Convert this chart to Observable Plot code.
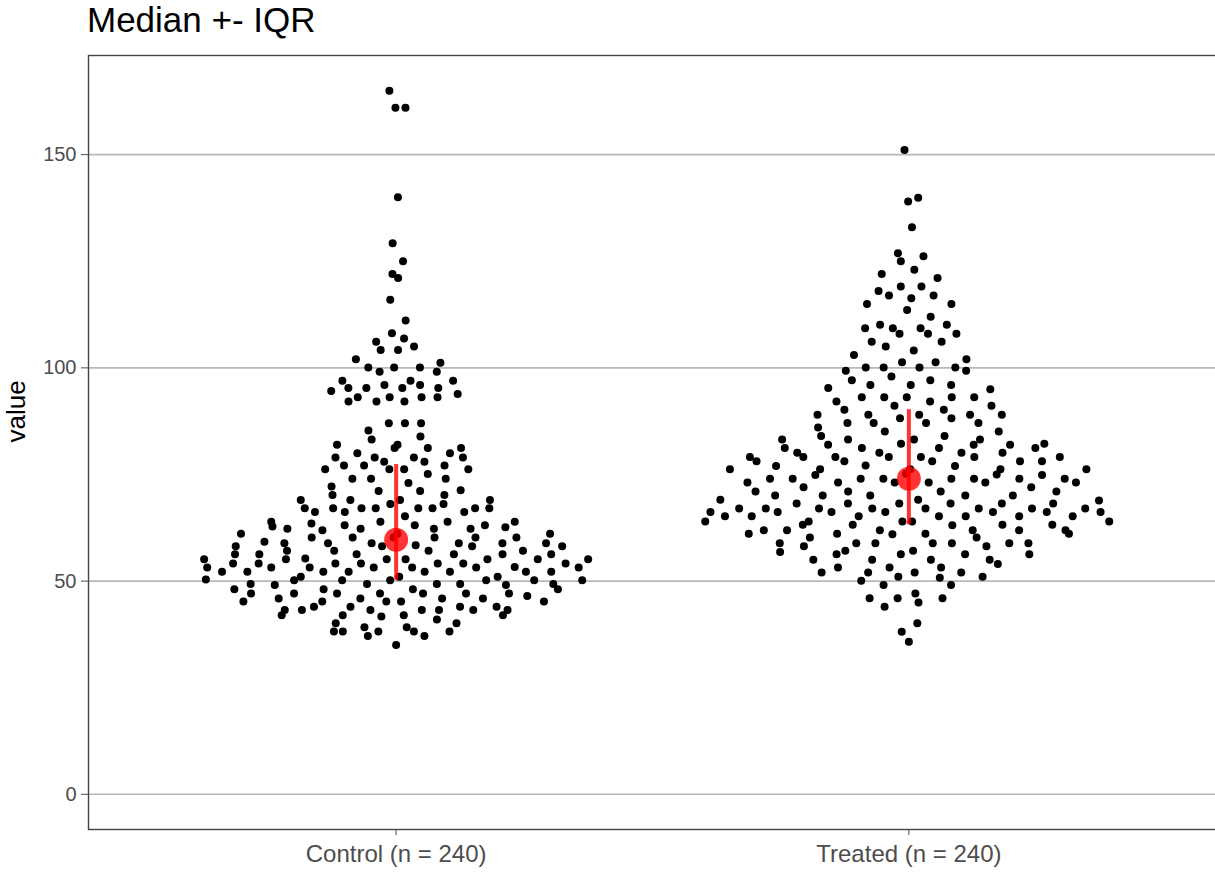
<!DOCTYPE html>
<html>
<head>
<meta charset="utf-8">
<script src="https://cdn.jsdelivr.net/npm/d3@7"></script>
<script src="https://cdn.jsdelivr.net/npm/@observablehq/plot@0.6"></script>
<style>
  html, body { margin: 0; padding: 0; background: #ffffff; }
  body { width: 1215px; height: 876px; position: relative; overflow: hidden;
         font-family: "Liberation Sans", Arial, sans-serif; }
  #title { position: absolute; left: 87px; top: 2px; font-size: 35px; line-height: 35px; color: #000; white-space: nowrap; }
  #chart { position: absolute; left: 0; top: 45px; width: 1218px; }
</style>
</head>
<body>
<div id="title">Median +- IQR</div>
<div id="chart"></div>
<script>
// Group names shown on the x axis (sample size is appended from the data)
const groupNames = ["Control", "Treated"];

// Control observations
const controlValues = [
  165.0, 161.0, 161.0, 140.0, 129.2, 125.0, 122.0, 121.1, 116.0, 111.1, 108.1, 106.9, 106.1,
  105.0, 104.2, 104.2, 102.0, 101.2, 100.1, 100.1, 100.1, 99.1, 99.1, 97.0, 97.0, 97.0,
  96.0, 96.0, 95.3, 95.3, 95.3, 95.3, 94.6, 93.9,
  93.1, 93.1, 93.1, 93.1, 92.1, 92.1, 92.1,
  87.0, 87.0, 87.0, 85.3, 83.9, 83.2, 82.0, 82.0, 81.2, 81.2, 81.2,
  80.0, 80.0, 79.0, 79.0, 79.0, 79.0, 78.0, 78.0,
  77.1, 77.1, 77.1, 76.2, 76.2, 76.2, 76.2,
  75.1, 74.0, 74.0, 74.0, 73.0,
  72.2, 71.3, 71.1, 71.1, 70.2, 70.2,
  69.0, 69.0, 69.0, 69.0, 68.1, 68.1,
  67.1, 67.1, 67.1, 67.1, 67.1, 67.1, 67.1, 67.1, 66.2, 66.2, 66.2,
  65.2,
  63.5, 62.3, 63.9, 63.1, 62.3, 63.9, 63.1, 62.3, 63.9, 62.3, 63.1, 61.9, 63.9,
  61.1, 60.2, 59.2, 58.4, 60.2, 61.1, 58.9, 60.2, 58.9, 58.2, 58.9, 60.2, 58.9, 58.2, 60.2,
  58.9, 60.2, 58.9, 61.1, 58.2, 58.2, 57.1,
  55.3, 53.3, 54.1, 56.3, 54.1, 53.2, 55.1, 56.3, 53.2, 57.1, 55.1, 56.3, 54.1, 53.2, 55.1,
  55.1, 53.2, 52.2, 57.1, 54.1, 52.2, 56.3, 54.1, 53.2, 55.1, 56.3, 54.1, 57.1, 53.2, 55.1,
  56.3, 54.1, 53.2, 55.1,
  51.0, 52.2, 52.2, 49.3, 49.3, 50.2, 51.0, 52.2, 49.1, 50.2, 52.2, 49.1, 48.1, 50.2, 50.2,
  49.3, 50.2, 52.2, 49.3, 50.2, 52.2, 49.3, 51.0,
  48.1, 47.1, 45.2, 45.9, 47.1, 43.2, 44.0, 45.2, 47.1, 44.0, 45.9, 45.2, 45.2, 48.1, 47.1,
  45.9, 47.1, 45.9, 47.1, 47.1, 48.1, 45.2, 44.0, 44.0, 43.2,
  41.7, 43.2, 42.0, 43.2, 42.0, 42.0, 43.2, 43.2, 41.0, 40.1, 42.0, 43.2, 40.1, 38.2, 38.2,
  39.2, 37.1, 38.2, 39.2, 38.2, 37.1, 38.2, 35.0,
  62.6, 62.8, 50.4, 46.5
];

// Treated observations
const treatedValues = [
  151.1, 139.9, 139.0, 133.0, 126.9, 126.2, 125.0, 123.0, 122.0, 121.1, 119.1, 119.1,
  118.0, 117.0, 117.0, 116.3, 115.0, 115.0, 113.6, 112.0, 110.1, 110.1, 109.3, 109.3, 109.3,
  108.0, 108.0, 108.0, 106.1, 106.1, 105.0, 104.1, 103.0, 102.0, 101.3, 101.3,
  100.1, 100.1, 100.1, 100.1, 99.3, 99.3, 98.0, 97.1, 97.1, 96.0, 96.0, 96.0, 95.3, 95.0,
  93.1, 93.1, 93.1, 93.1, 93.1, 92.1, 92.1, 91.1, 91.1, 90.2, 90.2,
  89.0, 89.0, 89.0, 89.0, 89.0, 88.2, 88.2,
  87.1, 87.1, 87.1, 87.1, 86.0, 85.1, 85.1, 84.0, 84.0, 83.2, 83.2, 83.2, 83.2,
  82.2, 82.0, 82.0, 82.0, 82.2, 81.2, 81.2, 81.2, 81.2, 80.1, 80.1, 80.1, 80.1,
  79.1, 79.1, 79.1, 79.1, 79.1, 79.1, 79.1, 78.1, 78.1, 78.1, 78.1, 78.1,
  77.0, 77.0, 77.1, 76.2, 76.2, 76.2, 76.2, 76.2, 75.2, 74.9, 74.9, 75.0,
  73.1, 74.0, 74.0, 73.1, 74.0, 74.0, 73.1, 73.1, 74.0, 74.0, 73.1, 74.0, 74.0, 73.1,
  71.0, 72.0, 71.0, 71.0, 72.0, 71.0,
  69.1, 70.1, 70.1, 70.1, 70.1, 70.1, 69.1,
  68.2, 68.2, 68.9, 68.2, 68.2, 68.2,
  66.2, 67.0, 67.0, 68.2, 67.0, 67.0, 67.0, 67.0, 67.0, 67.0, 66.2, 66.2,
  65.2, 65.2, 66.2, 66.2, 66.2, 65.2, 65.2, 65.2, 66.2, 65.2, 65.2,
  64.0, 64.0, 64.0, 63.2, 63.1, 64.0, 63.2, 63.2, 64.0, 63.2,
  61.0, 61.9, 61.9, 61.1, 61.9, 61.1, 61.1, 61.9, 61.9, 61.9, 61.1,
  58.9, 60.2, 58.2, 56.8, 56.3, 57.1, 58.9, 58.9, 56.3, 57.1, 58.9, 58.9, 60.2, 58.2, 56.3,
  58.9, 58.9, 56.3,
  55.0, 55.0, 55.0, 55.0, 54.0, 53.2, 53.2, 53.2, 52.0, 52.0, 52.0, 52.0,
  51.0, 50.8, 51.0, 50.1, 49.1, 49.1,
  46.0, 46.0, 47.1, 45.0, 46.0, 44.0, 40.1, 38.1, 35.8
];

// Y axis tick values
const yTicks = [0, 50, 100, 150];

// ---- quasirandom horizontal offsets (van der Corput sequence scaled by a KDE) ----
function vanDerCorput(n) {
  const out = [];
  for (let i = 1; i <= n; i++) {
    let v = 0, f = 0.5, k = i;
    while (k > 0) { v += f * (k % 2); k = Math.floor(k / 2); f /= 2; }
    out.push(v);
  }
  return out;
}

function quasirandomOffsets(vals, width = 0.4, adjust = 0.5) {
  const n = vals.length;
  const sorted = vals.slice().sort(d3.ascending);
  const sd = d3.deviation(vals);
  const iqr = d3.quantileSorted(sorted, 0.75) - d3.quantileSorted(sorted, 0.25);
  const bw = 0.9 * Math.min(sd, iqr / 1.34) * Math.pow(n, -0.2) * adjust;
  const dens = v => d3.sum(vals, u => Math.exp(-0.5 * ((v - u) / bw) ** 2));
  const lo = sorted[0] - 3 * bw, hi = sorted[n - 1] + 3 * bw;
  const maxD = d3.max(d3.range(512), i => dens(lo + i * (hi - lo) / 511));
  const order = d3.range(n).sort((a, b) => vals[a] - vals[b] || a - b);
  const rank = new Array(n);
  order.forEach((idx, r) => { rank[idx] = r; });
  const vdc = vanDerCorput(n);
  return vals.map((v, i) => (vdc[rank[i]] - 0.5) * 2 * width * dens(v) / maxD);
}

const groups = [controlValues, treatedValues];
const points = [];
const summary = [];
groups.forEach((vals, gi) => {
  const pos = gi + 1;
  const offs = quasirandomOffsets(vals, gi === 0 ? 0.4 : 0.42);
  vals.forEach((v, i) => points.push({ group: groupNames[gi], pos: pos + offs[i], value: v }));
  const s = vals.slice().sort(d3.ascending);
  summary.push({
    pos,
    q1: d3.quantileSorted(s, 0.25),
    median: d3.quantileSorted(s, 0.5),
    q3: d3.quantileSorted(s, 0.75)
  });
});

const tickLabels = groups.map((vals, gi) => `${groupNames[gi]} (n = ${vals.length})`);

const yMax = d3.max(points, d => d.value);
const yMin = 0;
const pad = 0.05 * (yMax - yMin);

const chart = Plot.plot({
  width: 1218,
  height: 831,
  marginTop: 10,
  marginBottom: 47,
  marginLeft: 88,
  marginRight: 2,
  style: { fontFamily: "'Liberation Sans', Arial, sans-serif", background: "#ffffff", overflow: "visible", maxWidth: "none" },
  x: { domain: [0.4, 2.6] },
  y: { domain: [yMin - pad, yMax + pad] },
  marks: [
    Plot.ruleY(yTicks, { stroke: "#b8b8b8", strokeWidth: 1.6 }),
    Plot.dot(points, { x: "pos", y: "value", r: 4, fill: "#000000", stroke: null }),
    Plot.ruleX(summary, { x: "pos", y1: "q1", y2: "q3", stroke: "#ff0000", strokeWidth: 4, strokeOpacity: 0.8 }),
    Plot.dot(summary, { x: "pos", y: "median", r: 12, fill: "#ff0000", fillOpacity: 0.8, stroke: null }),
    Plot.frame({ stroke: "#444444", strokeWidth: 1.4 }),
    Plot.axisY({ ticks: yTicks, tickSize: 7, tickPadding: 5, fontSize: 20, color: "#4d4d4d", label: null }),
    Plot.axisX({ ticks: [1, 2], tickFormat: d => tickLabels[d - 1], tickSize: 6, tickPadding: 9, fontSize: 24, color: "#4d4d4d", label: null }),
    Plot.text(["value"], { frameAnchor: "left", rotate: -90, dx: -72, fontSize: 26, fill: "#000000" })
  ]
});

document.getElementById("chart").appendChild(chart);
</script>
</body>
</html>
